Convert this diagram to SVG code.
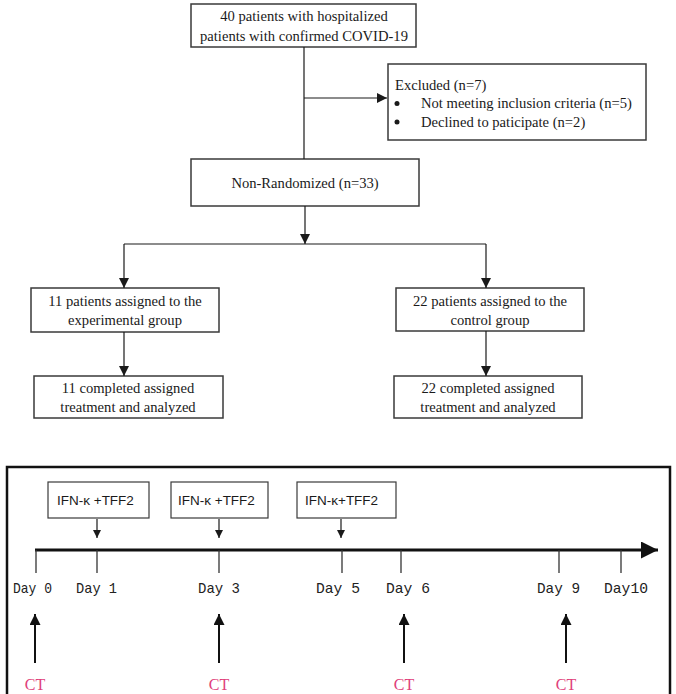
<svg xmlns="http://www.w3.org/2000/svg" width="676" height="694" viewBox="0 0 676 694">
<defs>
<marker id="ah" viewBox="0 0 10 10" refX="10" refY="5" markerWidth="10" markerHeight="10" markerUnits="userSpaceOnUse" orient="auto"><path d="M0,0 L10,5 L0,10 Z" fill="#1a1a1a"/></marker>
<marker id="ahs" viewBox="0 0 10 10" refX="10" refY="5" markerWidth="8" markerHeight="8" markerUnits="userSpaceOnUse" orient="auto"><path d="M0,0 L10,5 L0,10 Z" fill="#1a1a1a"/></marker>
<marker id="ahb" viewBox="0 0 10 10" refX="10" refY="5" markerWidth="20" markerHeight="17" markerUnits="userSpaceOnUse" orient="auto"><path d="M0,0 L10,5 L0,10 Z" fill="#111"/></marker>
<marker id="ahc" viewBox="0 0 10 10" refX="10" refY="5" markerWidth="17" markerHeight="11" markerUnits="userSpaceOnUse" orient="auto"><path d="M0,0 L10,5 L0,10 Z" fill="#111"/></marker>
</defs>
<style>
.box{fill:#fff;stroke:#3a3a3a;stroke-width:1.5}
.ibox{fill:#fff;stroke:#3a3a3a;stroke-width:1.2}
.t{font-family:"Liberation Serif","Times New Roman",serif;font-size:14.6px;fill:#1a1a1a;text-anchor:middle}
.tl{font-family:"Liberation Serif","Times New Roman",serif;font-size:14.6px;fill:#1a1a1a}
.ifn{font-family:"Liberation Sans",Arial,sans-serif;font-size:13.5px;fill:#1a1a1a}
.day{font-family:"Liberation Mono","Courier New",monospace;font-size:15px;fill:#222}
.ct{font-family:"Liberation Serif","Times New Roman",serif;font-size:16px;fill:#e0407a;text-anchor:middle}
.c{stroke:#1a1a1a;stroke-width:1.2;fill:none}
.tick{stroke:#333;stroke-width:1.3}
</style>

<g id="n-start"><rect class="box" x="191" y="4" width="225" height="43"/>
<text class="t" x="304" y="21">40 patients with hospitalized</text>
<text class="t" x="304" y="41">patients with confirmed COVID-19</text></g>

<g id="n-excluded"><rect class="box" x="388" y="64" width="258" height="76"/>
<text class="tl" x="395" y="90">Excluded (n=7)</text>
<circle cx="397" cy="103.5" r="2.5" fill="#1a1a1a"/>
<text class="tl" x="421" y="108">Not meeting inclusion criteria (n=5)</text>
<circle cx="397" cy="122" r="2.5" fill="#1a1a1a"/>
<text class="tl" x="421" y="127">Declined to paticipate (n=2)</text></g>

<g id="n-nonrand"><rect class="box" x="191" y="159" width="228" height="47"/>
<text class="t" x="305" y="188">Non-Randomized (n=33)</text></g>

<g id="n-exp"><rect class="box" x="31" y="288" width="188" height="44"/>
<text class="t" x="125" y="306">11 patients assigned to the</text>
<text class="t" x="125" y="325">experimental group</text></g>

<g id="n-ctrl"><rect class="box" x="396" y="288" width="188" height="43"/>
<text class="t" x="490" y="306">22 patients assigned to the</text>
<text class="t" x="490" y="325">control group</text></g>

<g id="n-exp-done"><rect class="box" x="34" y="376" width="189" height="42"/>
<text class="t" x="128" y="393">11 completed assigned</text>
<text class="t" x="128" y="412">treatment and analyzed</text></g>

<g id="n-ctrl-done"><rect class="box" x="394" y="376" width="188" height="42"/>
<text class="t" x="488" y="393">22 completed assigned</text>
<text class="t" x="488" y="412">treatment and analyzed</text></g>

<g id="connectors">
<line class="c" x1="304" y1="47" x2="304" y2="159"/>
<line class="c" x1="304" y1="98" x2="387" y2="98" marker-end="url(#ah)"/>
<line class="c" x1="305" y1="206" x2="305" y2="244" marker-end="url(#ah)"/>
<line class="c" x1="124" y1="244" x2="486" y2="244"/>
<line class="c" x1="124" y1="244" x2="124" y2="288" marker-end="url(#ah)"/>
<line class="c" x1="486" y1="244" x2="486" y2="288" marker-end="url(#ah)"/>
<line class="c" x1="124" y1="332" x2="124" y2="376" marker-end="url(#ah)"/>
<line class="c" x1="486" y1="331" x2="486" y2="376" marker-end="url(#ah)"/>
</g>

<g id="timeline">
<rect x="7" y="467" width="663" height="250" fill="none" stroke="#111" stroke-width="2.5"/>
<g id="ifn1"><rect class="ibox" x="48" y="482" width="101" height="36"/><text class="ifn" x="57" y="505">IFN-κ +TFF2</text></g>
<g id="ifn2"><rect class="ibox" x="171" y="482" width="97" height="36"/><text class="ifn" x="178" y="505">IFN-κ +TFF2</text></g>
<g id="ifn3"><rect class="ibox" x="297" y="482" width="99" height="36"/><text class="ifn" x="305" y="505">IFN-κ+TFF2</text></g>
<line class="c" x1="97" y1="519" x2="97" y2="538" marker-end="url(#ahs)"/>
<line class="c" x1="219" y1="519" x2="219" y2="538" marker-end="url(#ahs)"/>
<line class="c" x1="341" y1="519" x2="341" y2="538" marker-end="url(#ahs)"/>
<line x1="35" y1="550" x2="658" y2="550" stroke="#111" stroke-width="3" marker-end="url(#ahb)"/>
<line class="tick" x1="36" y1="550" x2="36" y2="573"/>
<line class="tick" x1="97" y1="550" x2="97" y2="573"/>
<line class="tick" x1="219" y1="550" x2="219" y2="573"/>
<line class="tick" x1="342" y1="550" x2="342" y2="573"/>
<line class="tick" x1="401" y1="550" x2="401" y2="573"/>
<line class="tick" x1="559" y1="550" x2="559" y2="573"/>
<line class="tick" x1="621" y1="550" x2="621" y2="573"/>
<text class="day" x="13" y="593" textLength="39" lengthAdjust="spacingAndGlyphs">Day 0</text>
<text class="day" x="76" y="593" textLength="41" lengthAdjust="spacingAndGlyphs">Day 1</text>
<text class="day" x="198" y="593" textLength="42" lengthAdjust="spacingAndGlyphs">Day 3</text>
<text class="day" x="316" y="593" textLength="44" lengthAdjust="spacingAndGlyphs">Day 5</text>
<text class="day" x="386" y="593" textLength="44" lengthAdjust="spacingAndGlyphs">Day 6</text>
<text class="day" x="537" y="593" textLength="43" lengthAdjust="spacingAndGlyphs">Day 9</text>
<text class="day" x="604" y="593" textLength="44" lengthAdjust="spacingAndGlyphs">Day10</text>
<line x1="35" y1="663" x2="35" y2="614" stroke="#111" stroke-width="2" marker-end="url(#ahc)"/>
<line x1="219" y1="663" x2="219" y2="614" stroke="#111" stroke-width="2" marker-end="url(#ahc)"/>
<line x1="404" y1="663" x2="404" y2="614" stroke="#111" stroke-width="2" marker-end="url(#ahc)"/>
<line x1="566" y1="663" x2="566" y2="614" stroke="#111" stroke-width="2" marker-end="url(#ahc)"/>
<text class="ct" x="35" y="690">CT</text>
<text class="ct" x="219" y="690">CT</text>
<text class="ct" x="404" y="690">CT</text>
<text class="ct" x="566" y="690">CT</text>
</g>
</svg>
